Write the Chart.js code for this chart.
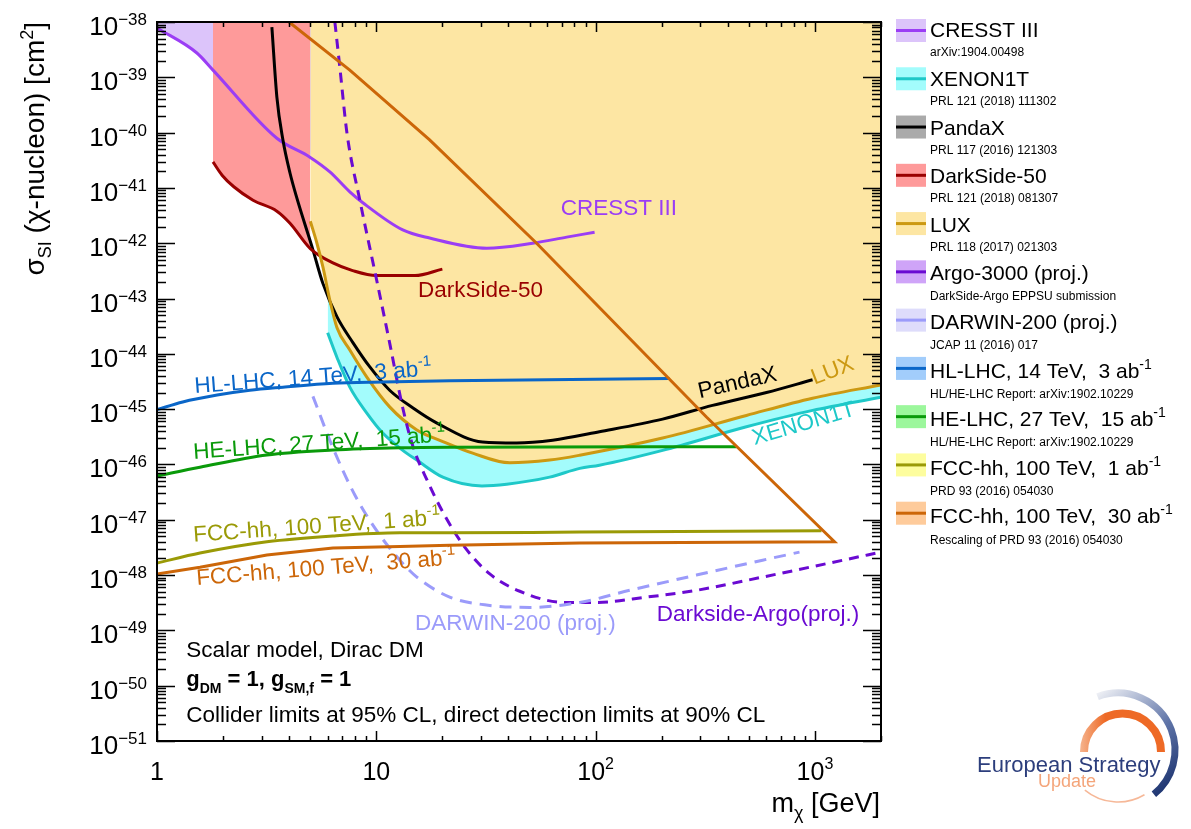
<!DOCTYPE html>
<html>
<head>
<meta charset="utf-8">
<script src="https://cdn.jsdelivr.net/npm/chart.js@4.4.1/dist/chart.umd.min.js"></script>
<style>
  html, body { margin: 0; padding: 0; background: #fff; }
  #wrap { width: 1191px; height: 829px; }
</style>
</head>
<body>
<div id="wrap"><canvas id="chart" width="1191" height="829"></canvas></div>
<script>
// dark matter mass [GeV] and SI cross section [cm^2]
const cresstX = [1.0, 1.52, 1.8, 3.52, 4.98, 6.14, 7.57, 8.68, 13.2, 17.5, 31.9, 51.6, 73.8, 98.9];
const cresstY = [7.8e-39, 2.75e-39, 1.35e-39, 7.9e-41, 3.6e-41, 1.95e-41, 8.5e-42, 5.4e-42, 1.74e-42, 1.24e-42, 8.1e-43, 1.0e-42, 1.29e-42, 1.58e-42];

const darksideX = [1.8, 1.98, 2.24, 2.74, 3.52, 4.04, 5.0, 6.34, 7.8, 10, 15, 20];
const darksideY = [2.95e-41, 1.7e-41, 1.05e-41, 6.0e-42, 3.8e-42, 2.3e-42, 8e-43, 4.4e-43, 3.2e-43, 2.6e-43, 2.6e-43, 3.4e-43];
const darksideFillMax = 5.0; // shaded band stops where LUX starts

const pandaxX = [3.34, 3.52, 3.75, 4.04, 4.34, 5.14, 5.70, 6.61, 7.82, 9.34, 11.5, 14.7, 18.9, 30.5, 43.6, 63.7, 104, 202, 341, 601, 975];
const pandaxY = [8.1e-39, 4.4e-40, 7.4e-41, 1.86e-41, 6.6e-42, 7.6e-43, 1.9e-43, 4.7e-44, 1.6e-44, 5.8e-45, 2.2e-45, 1.05e-45, 5.6e-46, 2.55e-46, 2.45e-46, 2.75e-46, 3.9e-46, 6.6e-46, 1.17e-45, 2.0e-45, 3.4e-45];

const luxX = [5.0, 5.36, 5.71, 6.14, 6.61, 7.57, 9.05, 11.5, 15.3, 20.1, 27.5, 40.6, 61.7, 84.6, 202, 487, 975, 2000];
const luxY = [2.5e-42, 1.0e-42, 3.7e-43, 9.3e-44, 3.0e-44, 1.17e-44, 3.8e-45, 1.1e-45, 4.2e-46, 2.6e-46, 1.6e-46, 1.07e-46, 1.2e-46, 1.47e-46, 3.0e-46, 7.7e-46, 1.58e-45, 2.75e-45];

const xenonX = [6.0, 6.61, 7.57, 9.05, 10.7, 13.2, 15.3, 20.1, 30.3, 39.3, 61.7, 84.6, 104, 202, 487, 975, 2000];
const xenonY = [2.4e-44, 8.7e-45, 2.5e-45, 8.5e-46, 3.7e-46, 1.8e-46, 1.2e-46, 5.9e-47, 4.1e-47, 4.4e-47, 5.9e-47, 8.5e-47, 9.7e-47, 1.8e-46, 4.8e-46, 9.5e-46, 1.65e-45];

const argoX = [6.47, 6.82, 7.35, 8.41, 10.05, 11.5, 13.2, 14.7, 17.0, 20.1, 25.3, 32.9, 45.1, 72.3, 101, 171, 288, 577, 1164, 2000];
const argoY = [1e-38, 1.5e-39, 9.7e-41, 6.0e-42, 2.1e-43, 1.58e-44, 1.05e-45, 2.1e-46, 5.3e-47, 1.38e-47, 3.2e-48, 1.05e-48, 5.1e-49, 3.2e-49, 3.2e-49, 4.0e-49, 5.3e-49, 9.2e-49, 1.65e-48, 2.6e-48];

const darwinX = [5.14, 6.34, 7.98, 10.2, 12.8, 15.3, 21.6, 31.2, 50.1, 84.6, 143, 288, 577, 850];
const darwinY = [1.7e-45, 2.0e-46, 2.8e-47, 5.8e-48, 1.86e-48, 9.2e-49, 4.0e-49, 2.9e-49, 2.6e-49, 3.2e-49, 5.3e-49, 1.0e-48, 1.86e-48, 2.6e-48];

const hllhcX = [1.0, 1.31, 1.88, 2.65, 3.75, 6.34, 10.7, 21.6, 217];
const hllhcY = [9.8e-46, 1.35e-45, 1.8e-45, 2.2e-45, 2.5e-45, 2.95e-45, 3.1e-45, 3.25e-45, 3.6e-45];

const helhcX = [1.0, 1.57, 3.17, 6.34, 12.8, 21.6, 439];
const helhcY = [6.2e-47, 8.9e-47, 1.48e-46, 1.82e-46, 2.0e-46, 2.05e-46, 2.1e-46];

const fcc1X = [1.0, 1.57, 3.17, 6.34, 12.8, 21.6, 84.6, 1071];
const fcc1Y = [1.65e-48, 2.5e-48, 4.0e-48, 5.1e-48, 5.8e-48, 5.8e-48, 6.0e-48, 6.3e-48];

// 30 ab-1: lower edge out to the turnover, then back up the diagonal
const fcc30X = [1.0, 1.57, 3.17, 6.34, 12.8, 21.6, 84.6, 1227, 320, 53.8, 17.5, 7.57, 4.0];
const fcc30Y = [1.05e-48, 1.38e-48, 2.3e-48, 3.1e-48, 3.3e-48, 3.45e-48, 3.8e-48, 4.0e-48, 7.2e-46, 1.0e-42, 7.4e-41, 1.35e-39, 1e-38];

// axis ticks
const xTickValues = [1, 10, 100, 1000];
const xTickLabels = [["1", ""], ["10", ""], ["10", "2"], ["10", "3"]];
const yTickExponents = [-38, -39, -40, -41, -42, -43, -44, -45, -46, -47, -48, -49, -50, -51];

// legend
const legendNames = ["CRESST III", "XENON1T", "PandaX", "DarkSide-50", "LUX", "Argo-3000 (proj.)",
    "DARWIN-200 (proj.)", "HL-LHC, 14 TeV,  3 ab", "HE-LHC, 27 TeV,  15 ab", "FCC-hh, 100 TeV,  1 ab", "FCC-hh, 100 TeV,  30 ab"];
const legendSup = ["", "", "", "", "", "", "", "-1", "-1", "-1", "-1"];
const legendRefs = ["arXiv:1904.00498", "PRL 121 (2018) 111302", "PRL 117 (2016) 121303", "PRL 121 (2018) 081307",
    "PRL 118 (2017) 021303", "DarkSide-Argo EPPSU submission", "JCAP 11 (2016) 017",
    "HL/HE-LHC Report: arXiv:1902.10229", "HL/HE-LHC Report: arXiv:1902.10229", "PRD 93 (2016) 054030",
    "Rescaling of PRD 93 (2016) 054030"];

const C = {
    cresst: "#9b3df5", cresstFill: "#dcc4fa",
    xenon: "#1ec8c8", xenonFill: "#a3fcfc",
    pandax: "#000000", pandaxFill: "#aaaaaa",
    darkside: "#990000", darksideFill: "#fe9a9a",
    lux: "#cc9912", luxFill: "#fde6a3",
    argo: "#6a0ad2", argoFill: "#cfa4f8",
    darwin: "#9b9bfa", darwinFill: "#dedcfb",
    hl: "#0a66c8", hlFill: "#a2cdfb",
    he: "#0a9a0a", heFill: "#9cf79c",
    fcc1: "#9a9a06", fcc1Fill: "#fdfd9e",
    fcc30: "#cc6608", fcc30Fill: "#fecb9b"
};
const legendLine = [C.cresst, C.xenon, C.pandax, C.darkside, C.lux, C.argo, C.darwin, C.hl, C.he, C.fcc1, C.fcc30];
const legendFill = [C.cresstFill, C.xenonFill, C.pandaxFill, C.darksideFill, C.luxFill, C.argoFill, C.darwinFill, C.hlFill, C.heFill, C.fcc1Fill, C.fcc30Fill];

// in-plot labels: segments [text, size, dy, bold], anchored at data coords
const F = 22.5;
const notes = [
    { segs: [["CRESST III", F]], x: 69.3, y: 3.2e-42, rot: 0, color: C.cresst },
    { segs: [["DarkSide-50", F]], x: 15.5, y: 1.07e-43, rot: 0, color: C.darkside },
    { segs: [["HL-LHC, 14 TeV,  3 ab", F], ["-1", 15, -10]], x: 1.49, y: 1.95e-45, rot: -4.3, color: C.hl },
    { segs: [["HE-LHC, 27 TeV,  15 ab", F], ["-1", 15, -10]], x: 1.47, y: 1.26e-46, rot: -4.0, color: C.he },
    { segs: [["FCC-hh, 100 TeV,  1 ab", F], ["-1", 15, -10]], x: 1.47, y: 4.0e-48, rot: -4.0, color: C.fcc1 },
    { segs: [["FCC-hh, 100 TeV,  30 ab", F], ["-1", 15, -10]], x: 1.52, y: 6.6e-49, rot: -4.6, color: C.fcc30 },
    { segs: [["PandaX", F]], x: 298, y: 1.58e-45, rot: -12.7, color: "#000" },
    { segs: [["LUX", F]], x: 995, y: 2.75e-45, rot: -21, color: C.lux },
    { segs: [["XENON1T", F]], x: 530, y: 2.24e-46, rot: -16.4, color: C.xenon },
    { segs: [["DARWIN-200 (proj.)", F]], x: 15.0, y: 1.02e-49, rot: 0, color: C.darwin },
    { segs: [["Darkside-Argo(proj.)", F]], x: 190, y: 1.48e-49, rot: 0, color: C.argo },
    { segs: [["Scalar model, Dirac DM", F]], x: 1.36, y: 3.3e-50, rot: 0, color: "#000" },
    { segs: [["g", 22, 0, true], ["DM", 14, 7, true], [" = 1, g", 22, 0, true], ["SM,f", 14, 7, true], [" = 1", 22, 0, true]], x: 1.36, y: 9.8e-51, rot: 0, color: "#000" },
    { segs: [["Collider limits at 95% CL, direct detection limits at 90% CL", F]], x: 1.36, y: 2.2e-51, rot: 0, color: "#000" }
];

const FONT = '"Liberation Sans", Arial, Helvetica, sans-serif';

function pts(xs, ys) {
    return xs.map((x, i) => ({ x: x, y: ys[i] }));
}

function font(size, bold) {
    return (bold ? "bold " : "") + size + "px " + FONT;
}

function richWidth(ctx, segs) {
    let w = 0;
    segs.forEach(s => {
        ctx.font = font(s[1], s[3]);
        w += ctx.measureText(s[0]).width;
    });
    return w;
}

function drawRich(ctx, segs, x, y, align, color) {
    const w = richWidth(ctx, segs);
    let cx = align === "right" ? x - w : align === "center" ? x - w / 2 : x;
    ctx.fillStyle = color;
    ctx.textAlign = "left";
    ctx.textBaseline = "alphabetic";
    segs.forEach(s => {
        ctx.font = font(s[1], s[3]);
        ctx.fillText(s[0], cx, y + (s[2] || 0));
        cx += ctx.measureText(s[0]).width;
    });
}

function drawAxes(chart) {
    const { ctx, chartArea: a, scales: { x, y } } = chart;
    ctx.save();
    ctx.strokeStyle = "#000";
    ctx.lineWidth = 1.5;
    ctx.beginPath();
    for (let e = -51; e <= -38; e++) {
        for (let m = 1; m <= 9; m++) {
            if (e === -38 && m > 1) break;
            const py = Math.round(y.getPixelForValue(m * Math.pow(10, e))) + 0.5;
            const len = m === 1 ? 18 : 9;
            ctx.moveTo(a.left, py); ctx.lineTo(a.left + len, py);
            ctx.moveTo(a.right, py); ctx.lineTo(a.right - len, py);
        }
    }
    for (let e = 0; e <= 3; e++) {
        for (let m = 1; m <= 9; m++) {
            const v = m * Math.pow(10, e);
            if (v > 2000) break;
            const px = Math.round(x.getPixelForValue(v)) + 0.5;
            const len = m === 1 ? 10 : 5;
            ctx.moveTo(px, a.bottom); ctx.lineTo(px, a.bottom - len);
            ctx.moveTo(px, a.top); ctx.lineTo(px, a.top + len);
        }
    }
    ctx.stroke();
    ctx.lineWidth = 2;
    ctx.strokeRect(a.left, a.top, a.right - a.left, a.bottom - a.top);

    // tick labels
    yTickExponents.forEach(e => {
        const py = y.getPixelForValue(Math.pow(10, e));
        drawRich(ctx, [["10", 26], ["\u2212" + Math.abs(e), 17, -10]], 147, py + 13, "right", "#000");
    });
    xTickValues.forEach((v, i) => {
        const lab = xTickLabels[i];
        const segs = [[lab[0], 25]];
        if (lab[1]) segs.push([lab[1], 16, -11]);
        drawRich(ctx, segs, x.getPixelForValue(v), 780, "center", "#000");
    });

    // axis titles
    drawRich(ctx, [["m", 27], ["\u03c7", 18, 7], [" [GeV]", 27]], 880, 812, "right", "#000");
    ctx.save();
    ctx.translate(44, a.top);
    ctx.rotate(-Math.PI / 2);
    drawRich(ctx, [["\u03c3", 28], ["SI", 18, 7], [" (\u03c7-nucleon) [cm", 28], ["2", 18, -11], ["]", 28]], 0, 0, "right", "#000");
    ctx.restore();
    ctx.restore();
}

function drawNotes(chart) {
    const { ctx, scales: { x, y } } = chart;
    notes.forEach(n => {
        ctx.save();
        ctx.translate(x.getPixelForValue(n.x), y.getPixelForValue(n.y));
        ctx.rotate(n.rot * Math.PI / 180);
        drawRich(ctx, n.segs, 0, 0, "left", n.color);
        ctx.restore();
    });
}

function drawLegend(chart) {
    const ctx = chart.ctx;
    legendNames.forEach((name, i) => {
        const boxTop = 19 + 48.27 * i;
        ctx.fillStyle = legendFill[i];
        ctx.fillRect(896, boxTop, 30, 23);
        ctx.fillStyle = legendLine[i];
        ctx.fillRect(896, boxTop + 10, 30, 3);
        const segs = [[name, 21]];
        if (legendSup[i]) segs.push([legendSup[i], 14, -9]);
        drawRich(ctx, segs, 930, 37.3 + 48.6 * i, "left", "#000");
        drawRich(ctx, [[legendRefs[i], 12]], 930, 56 + 48.8 * i, "left", "#000");
    });
}

function drawLogo(chart) {
    const ctx = chart.ctx;
    ctx.save();
    const g = ctx.createLinearGradient(1095, 695, 1170, 790);
    g.addColorStop(0, "#eef0f5");
    g.addColorStop(0.55, "#5f74a8");
    g.addColorStop(1, "#1c336f");
    ctx.strokeStyle = g;
    ctx.lineWidth = 7;
    ctx.beginPath();
    ctx.arc(1118, 750, 57, -111 * Math.PI / 180, 51 * Math.PI / 180);
    ctx.stroke();

    const o = ctx.createLinearGradient(1080, 0, 1165, 0);
    o.addColorStop(0, "#f5b48e");
    o.addColorStop(0.3, "#ee6a26");
    o.addColorStop(1, "#ee6a26");
    ctx.strokeStyle = o;
    ctx.lineWidth = 8;
    ctx.beginPath();
    ctx.arc(1122.5, 752, 38.5, Math.PI, 2 * Math.PI);
    ctx.stroke();

    ctx.strokeStyle = "#f6b898";
    ctx.lineWidth = 1.5;
    ctx.beginPath();
    ctx.arc(1118, 750, 52, 0.33 * Math.PI, 0.72 * Math.PI);
    ctx.stroke();

    drawRich(ctx, [["European Strategy", 22]], 977, 772, "left", "#2c3e7c");
    drawRich(ctx, [["Update", 18]], 1038, 787, "left", "#f4a57a");
    ctx.restore();
}

const decor = {
    id: "decor",
    afterDraw(chart) {
        drawNotes(chart);
        drawAxes(chart);
        drawLegend(chart);
        drawLogo(chart);
    }
};

function line(data, color, extra) {
    return Object.assign({
        data: data,
        borderColor: color,
        backgroundColor: color,
        borderWidth: 3,
        pointRadius: 0,
        cubicInterpolationMode: "monotone",
        fill: false
    }, extra || {});
}

// first dataset is drawn on top; fills are all painted beneath the lines
const datasets = [
    line(pts(fcc30X, fcc30Y), C.fcc30, { cubicInterpolationMode: "default", tension: 0 }),
    line(pts(fcc1X, fcc1Y), C.fcc1),
    line(pts(helhcX, helhcY), C.he),
    line(pts(hllhcX, hllhcY), C.hl),
    line(pts(darwinX, darwinY), C.darwin, { borderDash: [12, 8] }),
    line(pts(argoX, argoY), C.argo, { borderDash: [10, 7] }),
    line(pts(luxX, luxY), C.lux, { fill: "end", backgroundColor: C.luxFill }),
    line(pts(darksideX, darksideY), C.darkside),
    line(pts(pandaxX, pandaxY), C.pandax),
    line(pts(xenonX, xenonY), C.xenon, { fill: "end", backgroundColor: C.xenonFill }),
    line(pts(darksideX, darksideY).filter(p => p.x <= darksideFillMax), C.darksideFill,
        { borderWidth: 0, fill: "end", backgroundColor: C.darksideFill }),
    line(pts(cresstX, cresstY), C.cresst, { fill: "end", backgroundColor: C.cresstFill })
];

new Chart(document.getElementById("chart"), {
    type: "line",
    data: { datasets: datasets },
    options: {
        responsive: false,
        animation: false,
        devicePixelRatio: 1,
        layout: { padding: { left: 157, top: 22, right: 310, bottom: 88 } },
        plugins: {
            legend: { display: false },
            tooltip: { enabled: false },
            filler: { drawTime: "beforeDatasetsDraw" }
        },
        scales: {
            x: { type: "logarithmic", min: 1, max: 2000, display: false },
            y: { type: "logarithmic", min: 1e-51, max: 1e-38, display: false }
        }
    },
    plugins: [decor]
});
</script>
</body>
</html>
